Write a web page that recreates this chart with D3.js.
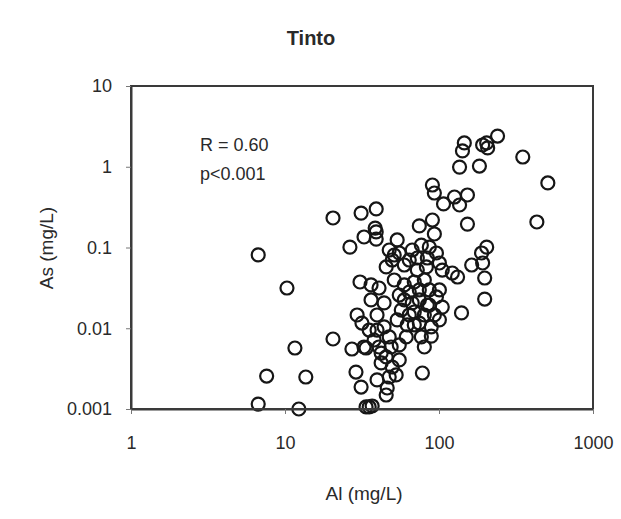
<!DOCTYPE html>
<html>
<head>
<meta charset="utf-8">
<script src="https://cdn.jsdelivr.net/npm/d3@7"></script>
<style>
  html, body { margin: 0; padding: 0; background: #fff; }
  svg { display: block; }
  text { font-family: "Liberation Sans", Arial, sans-serif; fill: #2a2a2a; }
</style>
</head>
<body>
<svg id="chart" width="621" height="519"></svg>
<script>
// ---- data (Al mg/L, As mg/L) ----
const alValues = [
  6.7, 10.3, 20.5, 31.2, 39.1, 38.5, 32.6, 39.1, 26.4, 39.1,
  74.5, 90.6, 93.3, 90.6, 93.3, 107, 126, 153, 136, 153,
  146, 142, 136, 183, 192, 207, 204, 240, 350, 509,
  432, 204, 189, 163, 192, 198, 198, 140, 132, 122,
  55.2, 49.7, 45.4, 64.1, 67.0, 76.8, 86.5, 96.2, 100.6, 82.8,
  105, 30.7, 36.2, 40.8, 44.0, 29.4, 39.6, 44.0, 35.2, 64.1,
  67.0, 64.1, 74.5, 86.5, 96.2, 105, 93.3, 89.1, 100.6, 74.5,
  61.3, 89.1, 80.3, 20.5, 27.2, 33.6, 37.9, 40.8, 48.9, 55.2,
  45.4, 55.2, 49.7, 28.9, 39.6, 47.5, 52.7, 31.2, 45.4, 78.0,
  13.65, 7.6, 11.6, 6.7, 12.3, 33.6, 35.2, 36.8, 31.6, 42.1,
  42.1, 46.1, 59.5, 69.1, 80.3, 55.2, 74.5, 84.0, 69.1, 56.9,
  80.3, 62.2, 47.5, 51.2, 59.5, 72.3, 47.5, 53.5, 84.0, 32.6,
  36.2, 39.6, 51.2, 72.3, 86.5, 59.5, 69.1, 53.5, 100.6, 76.8
];
const asValues = [
  0.081, 0.0315, 0.232, 0.267, 0.300, 0.174, 0.135, 0.127, 0.101, 0.156,
  0.185, 0.219, 0.147, 0.594, 0.473, 0.346, 0.422, 0.447, 0.336, 0.195,
  1.97, 1.57, 0.99, 1.02, 1.86, 1.71, 1.97, 2.40, 1.32, 0.63,
  0.207, 0.101, 0.0855, 0.0607, 0.0643, 0.0419, 0.0230, 0.0155, 0.0431, 0.0483,
  0.0855, 0.070, 0.0574, 0.070, 0.0931, 0.107, 0.101, 0.0855, 0.0643, 0.0574,
  0.0526, 0.0374, 0.0344, 0.0315, 0.0206, 0.0146, 0.0146, 0.0104, 0.0095, 0.0281,
  0.0206, 0.0146, 0.0224, 0.0298, 0.0244, 0.0183, 0.0146, 0.0104, 0.0127, 0.0116,
  0.0078, 0.0080, 0.00586, 0.00736, 0.00553, 0.00569, 0.00715, 0.00586, 0.00586, 0.00621,
  0.00441, 0.00405, 0.00331, 0.00287, 0.00229, 0.00249, 0.00264, 0.00187, 0.00149, 0.00279,
  0.00249, 0.00256, 0.00569, 0.00115, 0.001, 0.00106, 0.00106, 0.00109, 0.0116, 0.00493,
  0.00372, 0.00182, 0.0344, 0.0374, 0.0396, 0.0258, 0.0298, 0.0194, 0.0159, 0.0168,
  0.0146, 0.0110, 0.0078, 0.0807, 0.0607, 0.0741, 0.0931, 0.124, 0.0741, 0.00586,
  0.0224, 0.0095, 0.0396, 0.0526, 0.0194, 0.0224, 0.0110, 0.0127, 0.0298, 0.0078
];
const xTickValues = [1, 10, 100, 1000];
const xTickLabels = ["1", "10", "100", "1000"];
const yTickValues = [0.001, 0.01, 0.1, 1, 10];
const yTickLabels = ["0.001", "0.01", "0.1", "1", "10"];
const titleText = "Tinto";
const xTitle = "Al (mg/L)";
const yTitle = "As (mg/L)";
const statLines = ["R = 0.60", "p<0.001"];

// ---- layout ----
const svg = d3.select("#chart");
const plot = { left: 131, right: 593, top: 86, bottom: 409 };

const x = d3.scaleLog().domain([1, 1000]).range([plot.left, plot.right]);
const y = d3.scaleLog().domain([0.001, 10]).range([plot.bottom, plot.top]);

const points = alValues.map((a, i) => ({ al: a, as: asValues[i] }));

// points
svg.append("g")
  .selectAll("circle")
  .data(points)
  .join("circle")
  .attr("cx", d => x(d.al))
  .attr("cy", d => y(d.as))
  .attr("r", 6.5)
  .attr("fill", "none")
  .attr("stroke", "#161616")
  .attr("stroke-width", 2.2);

// frame
svg.append("rect")
  .attr("x", plot.left).attr("y", plot.top)
  .attr("width", plot.right - plot.left)
  .attr("height", plot.bottom - plot.top)
  .attr("fill", "none")
  .attr("stroke", "#3a3a3a")
  .attr("stroke-width", 2);

// axes
const xAxis = d3.axisBottom(x)
  .tickValues(xTickValues)
  .tickFormat((d, i) => xTickLabels[i])
  .tickSize(5).tickSizeOuter(0).tickPadding(22);
const gx = svg.append("g")
  .attr("transform", `translate(0,${plot.bottom})`)
  .call(xAxis);
gx.select(".domain").attr("stroke", "#3a3a3a").attr("stroke-width", 2);
gx.selectAll(".tick line").attr("stroke", "#777").attr("stroke-width", 1);
gx.selectAll(".tick text")
  .style("font-family", "'Liberation Sans', Arial, sans-serif")
  .style("font-size", "18px").attr("fill", "#2a2a2a");

const yAxis = d3.axisLeft(y)
  .tickValues(yTickValues)
  .tickFormat((d, i) => yTickLabels[i])
  .tickSize(5).tickSizeOuter(0).tickPadding(14);
const gy = svg.append("g")
  .attr("transform", `translate(${plot.left},0)`)
  .call(yAxis);
gy.select(".domain").attr("stroke", "#3a3a3a").attr("stroke-width", 2);
gy.selectAll(".tick line").attr("stroke", "#777").attr("stroke-width", 1);
gy.selectAll(".tick text")
  .style("font-family", "'Liberation Sans', Arial, sans-serif")
  .style("font-size", "18px").attr("fill", "#2a2a2a");

// title
svg.append("text")
  .attr("x", 311).attr("y", 45)
  .attr("text-anchor", "middle")
  .style("font-size", "20px").style("font-weight", "bold")
  .text(titleText);

// axis titles
svg.append("text")
  .attr("x", 364).attr("y", 500)
  .attr("text-anchor", "middle")
  .style("font-size", "19px")
  .text(xTitle);

svg.append("text")
  .attr("transform", "translate(53,248) rotate(-90)")
  .attr("text-anchor", "middle")
  .style("font-size", "19px")
  .text(yTitle);

// stats annotation
svg.selectAll("text.stat")
  .data(statLines)
  .join("text")
  .attr("class", "stat")
  .attr("x", 200)
  .attr("y", (d, i) => 151 + i * 29)
  .style("font-size", "18px")
  .text(d => d);
</script>
</body>
</html>
